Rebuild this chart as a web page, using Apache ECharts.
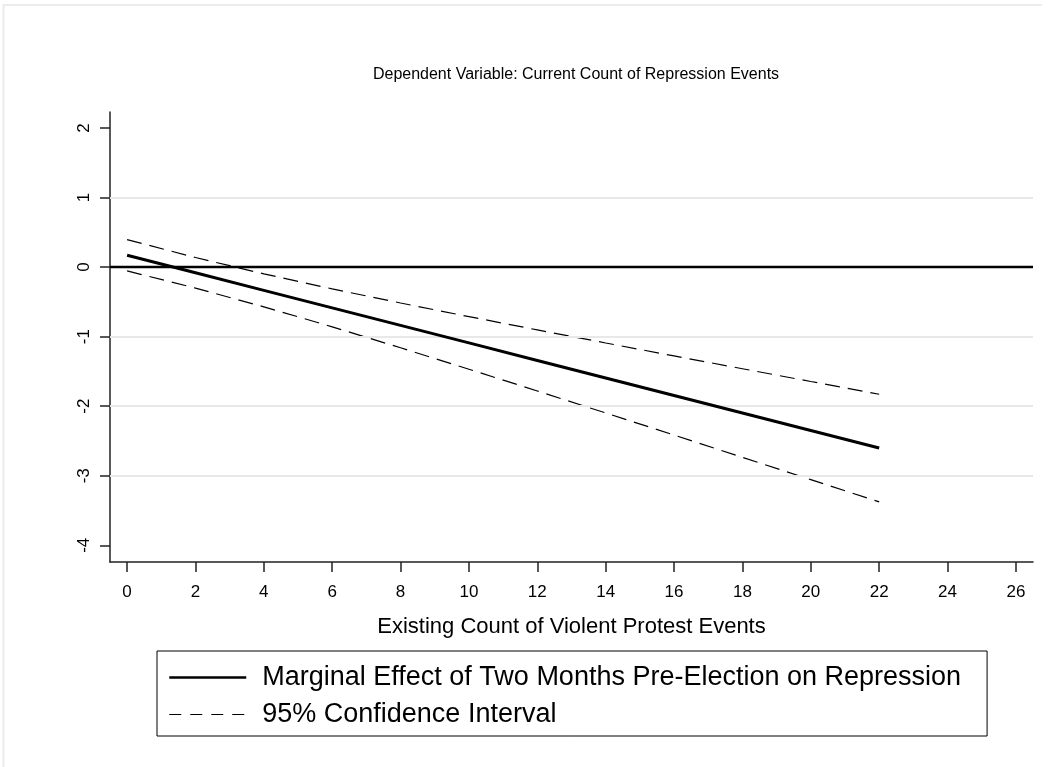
<!DOCTYPE html>
<html>
<head>
<meta charset="utf-8">
<script src="https://cdn.jsdelivr.net/npm/echarts@6/dist/echarts.min.js"></script>
<style>
html,body{margin:0;padding:0;background:#fff;}
#c{width:1050px;height:767px;}
</style>
</head>
<body>
<div id="c"></div>
<script>
// Data
var xValues   = [0, 2, 4, 6, 8, 10, 12, 14, 16, 18, 20, 22];
var effect    = [0.170, -0.082, -0.334, -0.586, -0.838, -1.090, -1.342, -1.594, -1.846, -2.098, -2.350, -2.602];
var upperCI   = [0.395, 0.138, -0.097, -0.313, -0.516, -0.712, -0.903, -1.091, -1.277, -1.461, -1.645, -1.828];
var lowerCI   = [-0.055, -0.302, -0.571, -0.859, -1.160, -1.468, -1.781, -2.097, -2.415, -2.735, -3.055, -3.376];
var xTicks    = [0, 2, 4, 6, 8, 10, 12, 14, 16, 18, 20, 22, 24, 26];
var yTicks    = [-4, -3, -2, -1, 0, 1, 2];
var gridLines = [1, -1, -2, -3];
var zeroLine  = [0];

var titleText = 'Dependent Variable: Current Count of Repression Events';
var xName = 'Existing Count of Violent Protest Events';
var seriesNames = ['Marginal Effect of Two Months Pre-Election on Repression', '95% Confidence Interval'];

function pairs(ys){ return xValues.map(function(x,i){ return [x, ys[i]]; }); }

var FONT = '"Liberation Sans", Arial, sans-serif';
var chart = echarts.init(document.getElementById('c'), null, {renderer:'canvas'});

var option = {
  backgroundColor: '#ffffff',
  animation: false,
  textStyle: {fontFamily: FONT, color: '#000'},
  graphic: [
    {type:'line', shape:{x1:3, y1:5, x2:1042, y2:5}, style:{stroke:'#ececec', lineWidth:2}, silent:true},
    {type:'line', shape:{x1:3.5, y1:4, x2:3.5, y2:767}, style:{stroke:'#ececec', lineWidth:2}, silent:true}
  ],
  title: {
    text: titleText,
    left: 571, top: 62, textAlign: 'center',
    textStyle: {fontFamily: FONT, fontSize: 16, fontWeight: 'normal', color: '#000'}
  },
  legend: {
    orient: 'vertical',
    left: 157, top: 651,
    padding: [13, 26, 8, 11],
    itemGap: 10,
    itemWidth: 77, itemHeight: 14,
    borderColor: '#000', borderWidth: 1, borderRadius: 0,
    backgroundColor: '#fff',
    itemStyle: {opacity: 0},
    textStyle: {fontFamily: FONT, fontSize: 27, color: '#000', padding: [0, 0, 0, 11]},
    data: [
      {name: seriesNames[0], lineStyle: {width: 2.5}},
      {name: seriesNames[1], lineStyle: {width: 1, type: [12, 9]}}
    ]
  },
  grid: {left: 110, right: 17, top: 112, bottom: 205, containLabel: false},
  xAxis: {
    type: 'value', min: -0.5, max: 26.5,
    name: xName, nameLocation: 'middle', nameGap: 54,
    nameTextStyle: {fontFamily: FONT, fontSize: 22, color: '#000'},
    axisLine: {onZero: false, lineStyle: {color: '#222', width: 1.5}},
    axisTick: {show: true, length: 10, customValues: xTicks, lineStyle: {color: '#222', width: 1.5}},
    axisLabel: {customValues: xTicks, margin: 22, fontFamily: FONT, fontSize: 17, color: '#000'},
    splitLine: {show: false}
  },
  yAxis: {
    type: 'value', min: -4.24, max: 2.23,
    axisLine: {onZero: false, lineStyle: {color: '#222', width: 1.5}},
    axisTick: {show: true, length: 10, customValues: yTicks, lineStyle: {color: '#222', width: 1.5}},
    axisLabel: {customValues: yTicks, rotate: 90, margin: 17, fontFamily: FONT, fontSize: 17, color: '#000'},
    splitLine: {show: false}
  },
  series: [
    {
      type: 'line', name: seriesNames[0], data: pairs(effect),
      symbol: 'none', z: 5,
      lineStyle: {color: '#000', width: 3, type: 'solid'},
      itemStyle: {color: '#000'},
      markLine: {
        silent: true, symbol: ['none','none'], label: {show: false},
        animation: false,
        data: gridLines.map(function(v){ return {yAxis: v, lineStyle: {color: '#e8e8e8', width: 2, type: 'solid'}}; })
          .concat(zeroLine.map(function(v){ return {yAxis: v, lineStyle: {color: '#000', width: 2.4, type: 'solid'}}; }))
      }
    },
    {
      type: 'line', name: seriesNames[1], data: pairs(upperCI),
      symbol: 'none', z: 4,
      lineStyle: {color: '#000', width: 1.2, type: [15, 8]},
      itemStyle: {color: '#000'}
    },
    {
      type: 'line', name: seriesNames[1], data: pairs(lowerCI),
      symbol: 'none', z: 4,
      lineStyle: {color: '#000', width: 1.2, type: [15, 8]},
      itemStyle: {color: '#000'}
    }
  ]
};
chart.setOption(option);
</script>
</body>
</html>
